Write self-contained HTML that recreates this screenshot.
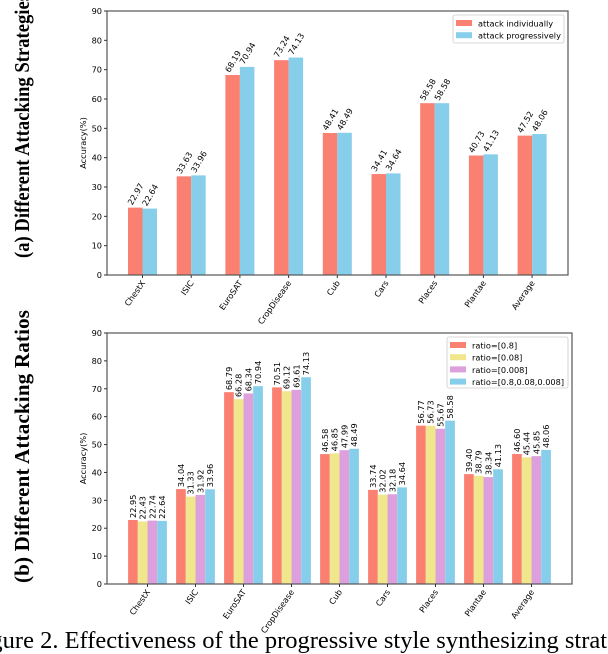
<!DOCTYPE html>
<html><head><meta charset="utf-8"><style>
body{margin:0;width:608px;height:654px;background:#fff;overflow:hidden;position:relative}
svg{position:absolute;left:0;top:0}
</style></head><body>
<svg id="s" width="608" height="654" xmlns="http://www.w3.org/2000/svg" font-family="'DejaVu Sans', 'Liberation Sans', sans-serif">
<text x="-30" y="648" font-family="'Liberation Serif', serif" font-size="24.5">Figure 2. Effectiveness of the progressive style synthesizing strategy</text>
<text transform="translate(29,258) rotate(-90)" text-anchor="start" font-family="'Liberation Serif', serif" font-weight="bold" font-size="21" textLength="264" lengthAdjust="spacingAndGlyphs">(a) Different Attacking Strategies</text>
<text transform="translate(29,583) rotate(-90)" font-family="'Liberation Serif', serif" font-weight="bold" font-size="21" textLength="273">(b) Different Attacking Ratios</text>
</svg>
<script>
const categories=["ChestX","ISIC","EuroSAT","CropDisease","Cub","Cars","Places","Plantae","Average"];
const topIndividually=[22.97,33.63,68.19,73.24,48.41,34.41,58.58,40.73,47.52];
const topProgressively=[22.64,33.96,70.94,74.13,48.49,34.64,58.58,41.13,48.06];
const ratio08=[22.95,34.04,68.79,70.51,46.58,33.74,56.77,39.40,46.60];
const ratio008=[22.43,31.33,66.28,69.12,46.85,32.02,56.73,38.79,45.44];
const ratio0008=[22.74,31.92,68.34,69.61,47.99,32.18,55.67,38.34,45.85];
const ratioAll=[22.64,33.96,70.94,74.13,48.49,34.64,58.58,41.13,48.06];
const yTicks=[0,10,20,30,40,50,60,70,80,90];
const topLegend=["attack individually","attack progressively"];
const botLegend=["ratio=[0.8]","ratio=[0.08]","ratio=[0.008]","ratio=[0.8,0.08,0.008]"];
const NS="http://www.w3.org/2000/svg";
const svg=document.getElementById('s');
function mk(tag,attrs,parent){const e=document.createElementNS(NS,tag);for(const k in attrs)e.setAttribute(k,attrs[k]);(parent||svg).appendChild(e);return e;}
function chart(cfg){
  const {L,R,T,B,x0,step,bw,series,colors,rot,legend,lg,name}=cfg;
  const y=v=>B-(v/90)*(B-T);
  const x=i=>x0+i*step;
  const g=mk('g',{});
  
  
  const n=series.length;
  series.forEach((s,si)=>{
    s.forEach((v,i)=>{
      const bx=x(i)+(si-n/2)*bw;
      const r=mk('rect',{x:bx,y:y(v),width:bw,height:B-y(v),fill:colors[si]},g);
      
      
      const cx=bx+bw/2;
      const t=mk('text',{'font-size':8.2,transform:`translate(${cx+(rot===60?-3:3)},${y(v)-2}) rotate(${-rot})`},g);
      t.textContent=v.toFixed(2);
      
      
    });
  });
  const ax=mk('rect',{x:L,y:T,width:R-L,height:B-T,fill:'none',stroke:'#555','stroke-width':1.2},g);
  
  
  yTicks.forEach(v=>{
    mk('line',{x1:L-3,x2:L,y1:y(v),y2:y(v),stroke:'#333'},g);
    const t=mk('text',{x:L-5,y:y(v)+3,'font-size':8.2,'text-anchor':'end'},g);
    t.textContent=v;
    
    
  });
  categories.forEach((c,i)=>{
    mk('line',{x1:x(i),x2:x(i),y1:B,y2:B+3,stroke:'#333'},g);
    const t=mk('text',{'font-size':8.2,'text-anchor':'end',transform:`translate(${x(i)+3},${B+8}) rotate(-55)`},g);
    t.textContent=c;
    
    
  });
  const yl=mk('text',{'font-size':8.2,'text-anchor':'middle',transform:`translate(${L-21},${(T+B)/2}) rotate(-90)`},g);
  yl.textContent='Accuracy(%)';
  
  
  const lgG=mk('g',{},g);
  
  
  mk('rect',{x:lg.x,y:lg.y,width:lg.w,height:lg.h,fill:'#fff',stroke:'#ccc','stroke-width':0.8,rx:2},lgG);
  legend.forEach((l,i)=>{
    const yy=lg.y+5+i*12.2;
    mk('rect',{x:lg.x+3,y:yy,width:16,height:6,fill:colors[i]},lgG);
    const t=mk('text',{x:lg.x+25,y:yy+6.5,'font-size':8.2},lgG);
    t.textContent=l;
    
    
  });
}
chart({name:'chart-a',L:107,R:568,T:11,B:275,x0:142.5,step:48.7,bw:14.5,series:[topIndividually,topProgressively],colors:['#FA8072','#87CEEB'],rot:60,legend:topLegend,lg:{x:453,y:15,w:111,h:28}});
chart({name:'chart-b',L:107,R:572,T:333,B:584,x0:147.5,step:48,bw:9.7,series:[ratio08,ratio008,ratio0008,ratioAll],colors:['#FA8072','#F0E68C','#DDA0DD','#87CEEB'],rot:90,legend:botLegend,lg:{x:447,y:337,w:121,h:51}});
</script>
</body></html>
